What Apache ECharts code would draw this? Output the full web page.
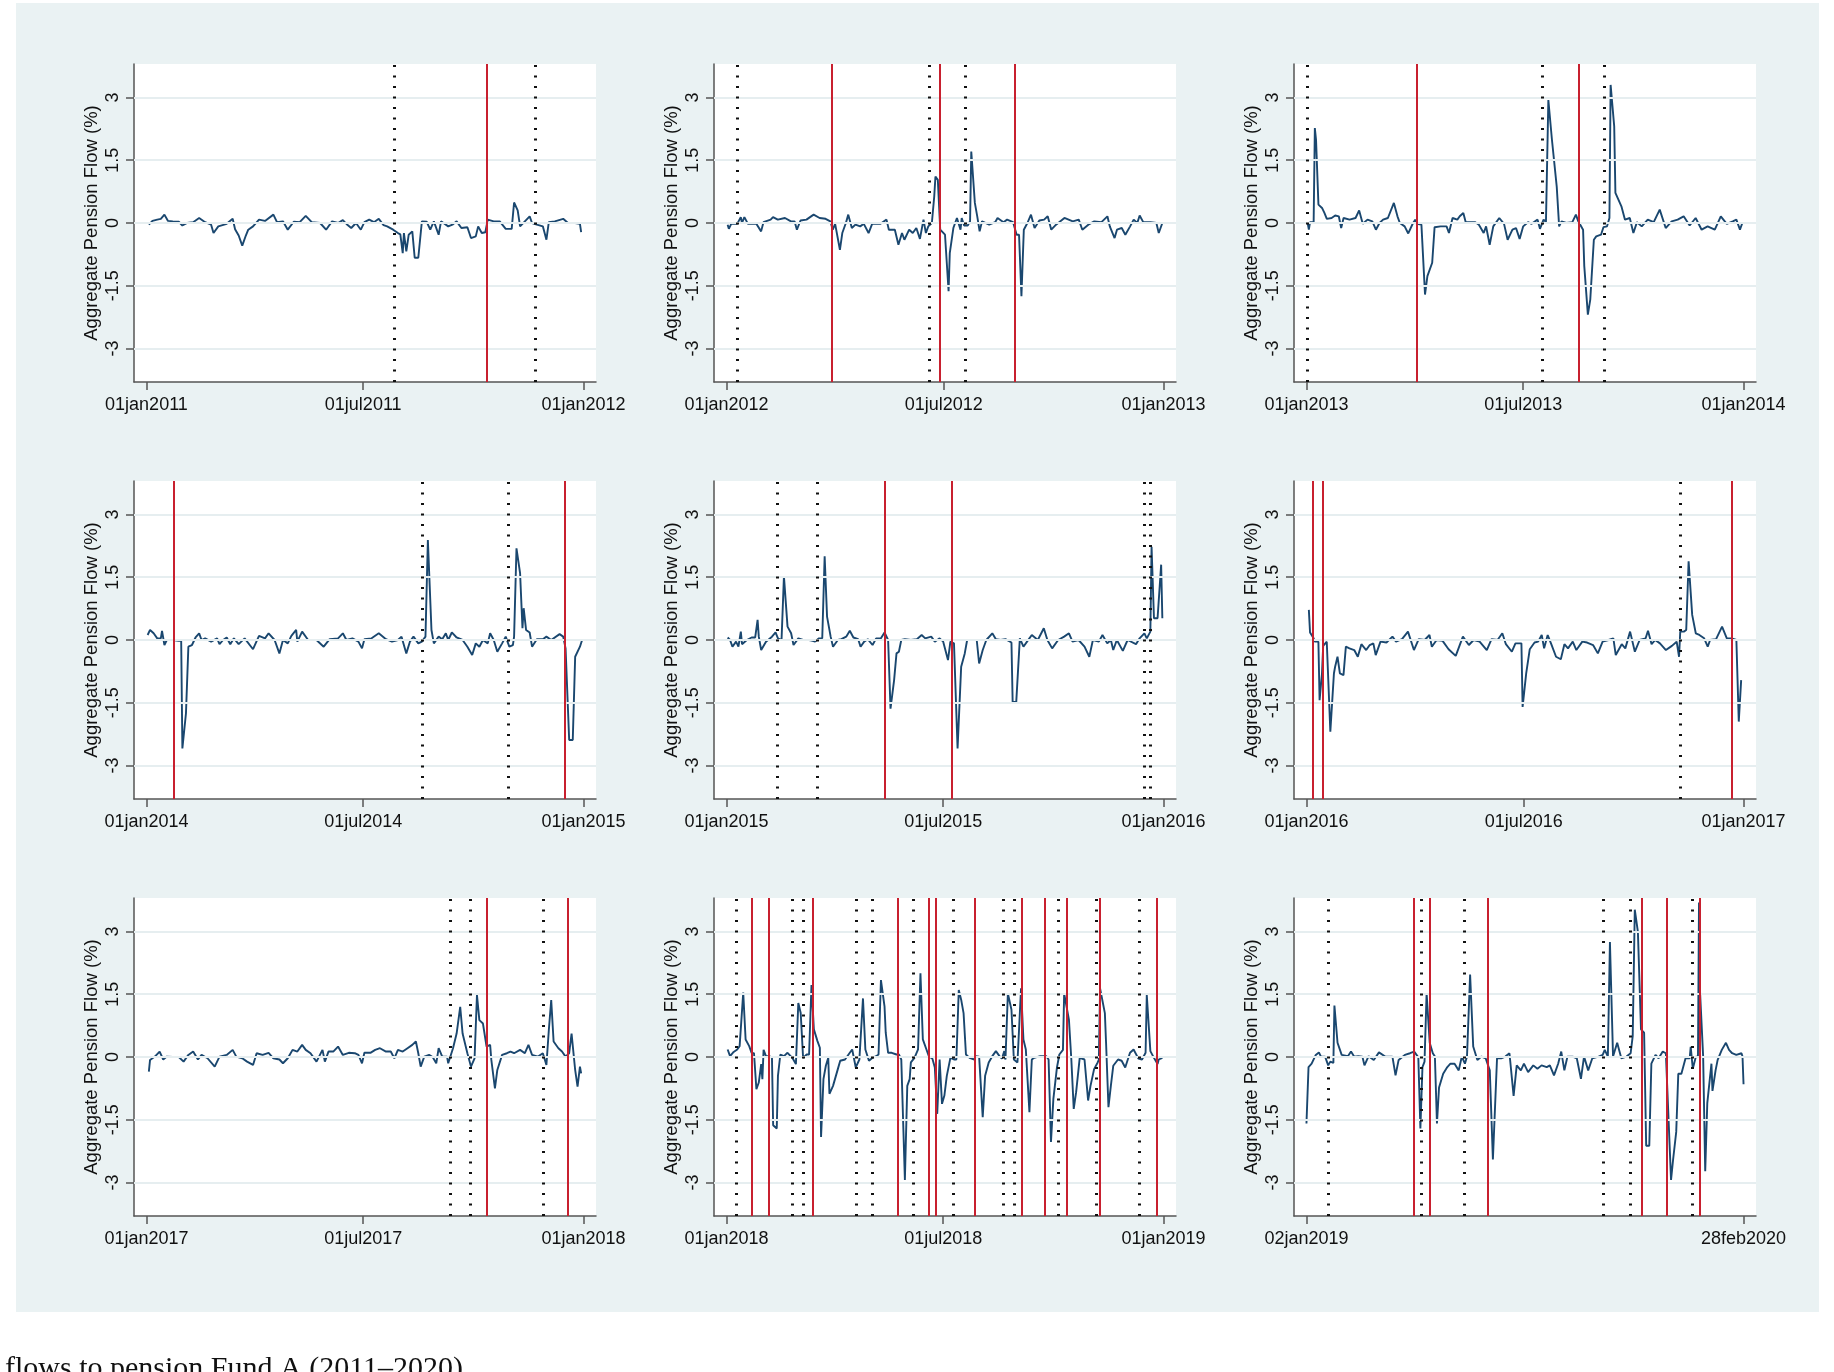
<!DOCTYPE html>
<html>
<head>
<meta charset="utf-8">
<script src="https://cdn.jsdelivr.net/npm/echarts@6/dist/echarts.min.js"></script>
<style>
html, body { margin: 0; padding: 0; background: #fff; }
#main { width: 1834px; height: 1372px; }
</style>
</head>
<body>
<div id="main"></div>
<script>
// days counted from 1 January of each panel's year (panel 9: from 2 January 2019)
var flow2011 = [[2,-0.04],[5,0.05],[9,0.08],[12,0.1],[15,0.2],[18,0.05],[22,0.04],[27,0.03],[30,-0.06],[34,0],[39,0.02],[44,0.12],[49,0.02],[54,-0.04],[56,-0.24],[60,-0.08],[67,-0.02],[72,0.1],[74,-0.15],[77,-0.3],[80,-0.54],[83,-0.3],[85,-0.16],[89,-0.08],[94,0.08],[99,0.05],[106,0.2],[109,0.02],[114,0.04],[118,-0.16],[123,0.03],[128,0.02],[133,0.17],[138,0.02],[145,0],[150,-0.16],[155,0.04],[160,0],[164,0.07],[168,-0.05],[171,-0.12],[175,0],[179,-0.16],[182,0.02],[186,0.08],[190,0.02],[194,0.1],[198,-0.05],[201,-0.08],[206,-0.16],[210,-0.24],[212,-0.27],[214,-0.72],[215,-0.24],[217,-0.68],[219,-0.28],[222,-0.2],[224,-0.83],[227,-0.83],[230,0.04],[234,0.03],[237,-0.16],[240,0.04],[244,-0.28],[246,0.04],[252,-0.08],[256,-0.03],[259,0.04],[263,-0.12],[268,-0.1],[271,-0.36],[275,-0.32],[277,-0.08],[280,-0.24],[283,-0.22],[285,0.08],[290,0.04],[295,0.04],[300,-0.14],[305,-0.14],[307,0.49],[310,0.3],[312,-0.08],[316,0.04],[320,0.16],[322,0],[326,-0.04],[331,-0.08],[334,-0.4],[336,0.02],[341,0.04],[348,0.1],[352,0],[358,0],[362,-0.02],[363,-0.22]];
var dash2011 = [207, 325];
var red2011 = [284];

var flow2012 = [[1,-0.04],[2,-0.14],[4,-0.02],[9,-0.02],[12,0.14],[13,0],[15,0.14],[18,-0.02],[25,-0.02],[29,-0.2],[31,0.02],[37,0.08],[39,0.14],[43,0.08],[49,0.12],[54,0.04],[57,0.04],[59,-0.16],[62,0.06],[67,0.08],[73,0.2],[78,0.12],[83,0.1],[87,0.04],[89,-0.16],[91,-0.02],[95,-0.64],[97,-0.24],[100,0],[102,0.2],[105,-0.12],[108,-0.04],[112,-0.08],[115,-0.02],[119,-0.24],[122,-0.02],[129,-0.02],[134,0.08],[136,-0.16],[141,-0.16],[144,-0.52],[147,-0.24],[149,-0.4],[153,-0.16],[156,-0.24],[159,-0.12],[162,-0.38],[165,0.08],[167,-0.24],[169,-0.08],[172,0],[174,0.64],[175,1.11],[177,1.03],[179,-0.16],[183,-0.28],[186,-1.63],[187,-0.72],[190,-0.12],[193,0.12],[196,-0.16],[197,0.12],[199,-0.06],[202,-0.06],[204,0.04],[205,1.71],[208,0.48],[210,0.16],[212,-0.2],[214,0.04],[220,-0.04],[225,0.02],[227,0.12],[232,0.02],[235,0.08],[240,0.02],[243,-0.28],[245,-0.28],[247,-1.75],[249,-0.16],[252,0],[255,0.2],[258,-0.12],[262,0.06],[266,0.08],[269,0.16],[272,-0.16],[276,-0.04],[283,0.12],[290,0.04],[295,0.08],[298,-0.16],[303,-0.04],[308,0.04],[314,0.02],[319,0.16],[321,-0.08],[325,-0.36],[327,-0.16],[331,-0.12],[334,-0.28],[338,-0.08],[341,0.08],[344,0],[346,0.18],[349,0.02],[355,0.02],[360,0],[362,-0.24],[365,0]];
var dash2012 = [9, 170, 200];
var red2012 = [88, 179, 241];

var flow2013 = [[1,0],[2,-0.16],[3,0.02],[6,0.02],[7,2.27],[8,1.99],[10,0.44],[13,0.36],[15,0.24],[17,0.1],[21,0.12],[24,0.18],[27,0.16],[29,-0.12],[31,0.12],[36,0.08],[41,0.12],[44,0.3],[47,-0.02],[51,0.08],[55,0.04],[58,-0.16],[61,0],[64,0.08],[68,0.12],[73,0.48],[76,0.16],[78,0],[82,-0.08],[85,-0.25],[89,0],[91,0.08],[92,-0.02],[96,-0.04],[99,-1.71],[101,-1.27],[105,-0.95],[107,-0.1],[112,-0.08],[117,-0.08],[119,-0.24],[122,0.12],[126,0.08],[128,0.16],[131,0.24],[133,0.02],[136,0.02],[141,0.02],[144,-0.04],[148,-0.24],[150,-0.08],[153,-0.52],[156,-0.08],[161,0.12],[165,-0.02],[168,-0.4],[172,-0.16],[175,-0.12],[178,-0.38],[181,-0.08],[185,0.02],[188,-0.02],[193,0.08],[195,-0.14],[198,0.08],[200,0.02],[202,2.94],[205,1.99],[209,0.87],[211,-0.08],[213,0.04],[217,0],[222,0.02],[225,0.2],[227,0.04],[231,-0.16],[232,-1.03],[235,-2.19],[237,-1.83],[240,-0.4],[242,-0.32],[246,-0.28],[248,-0.1],[251,-0.08],[253,0.12],[254,3.3],[257,2.31],[258,0.72],[263,0.4],[266,0.08],[270,0.12],[273,-0.24],[276,0.02],[280,-0.08],[285,0.08],[290,0.02],[295,0.32],[300,-0.12],[305,0.04],[310,0.08],[315,0.16],[320,-0.06],[325,0.12],[330,-0.16],[335,-0.08],[341,-0.16],[346,0.16],[351,-0.02],[356,0.04],[359,0.08],[362,-0.16],[364,0]];
var dash2013 = [1, 197, 249];
var red2013 = [92, 227];

var flow2014 = [[1,0.12],[3,0.24],[6,0.16],[9,0.04],[12,0.04],[13,0.22],[15,-0.12],[17,0],[22,0],[27,-0.02],[29,-0.02],[30,-2.59],[33,-1.75],[35,-0.16],[38,-0.12],[41,0.06],[44,0.16],[46,0],[49,0.04],[54,-0.04],[59,0.04],[61,-0.1],[64,0],[67,0.06],[70,-0.1],[73,0.04],[77,-0.1],[82,0.04],[89,-0.22],[94,0.1],[99,0.04],[102,0.16],[107,0],[111,-0.32],[114,0],[118,-0.08],[121,0.1],[125,0.24],[126,-0.04],[130,0.2],[135,0],[142,0],[148,-0.16],[153,0.02],[160,0.04],[164,0.16],[167,0],[172,0.04],[177,-0.04],[180,-0.2],[182,0.02],[188,0.04],[194,0.16],[200,0.02],[205,-0.04],[210,0],[213,0.08],[217,-0.32],[220,-0.04],[223,0.08],[227,-0.08],[230,-0.04],[233,0.08],[235,2.39],[238,0.24],[240,-0.08],[244,0.08],[247,0.02],[250,0.16],[252,0],[255,0.18],[259,0.06],[264,0],[268,-0.16],[272,-0.36],[275,-0.08],[278,-0.16],[281,0],[285,-0.08],[287,0.16],[290,0],[293,-0.28],[297,-0.08],[300,0.08],[303,-0.16],[306,-0.12],[307,0.08],[309,2.19],[312,1.6],[314,0.28],[315,0.76],[317,0.24],[320,0.18],[322,-0.16],[326,0.02],[331,0.02],[334,0.08],[338,0],[345,0.14],[348,0.08],[350,-0.2],[351,-0.24],[353,-2.39],[356,-2.39],[358,-0.4],[362,-0.16],[364,0.02]];
var dash2014 = [230, 302];
var red2014 = [23, 349];

var flow2015 = [[1,0.06],[3,0],[5,-0.16],[8,-0.04],[10,-0.16],[12,0.2],[13,-0.1],[17,0],[21,0.06],[24,0.06],[26,0.48],[27,0.08],[29,-0.24],[33,-0.04],[38,0.08],[41,0.18],[43,0.04],[46,0],[48,1.52],[51,0.32],[54,0.16],[56,-0.12],[60,0.04],[64,0],[69,0],[72,-0.02],[74,-0.04],[77,0.04],[80,0.04],[82,2.0],[84,0.56],[87,0.08],[89,-0.16],[93,0],[96,0.02],[100,0.08],[103,0.22],[106,0.06],[110,0.02],[112,-0.16],[115,-0.04],[118,0.02],[122,-0.12],[125,0.04],[129,0.04],[132,0.18],[135,0],[137,-1.64],[140,-0.96],[142,-0.32],[144,-0.28],[146,0],[149,0.02],[154,0],[159,0.02],[163,0.12],[166,0.04],[171,0.08],[174,-0.04],[178,0.04],[181,-0.04],[185,-0.48],[187,-0.04],[190,-0.08],[193,-2.59],[196,-0.64],[199,-0.32],[201,0],[205,0],[209,0],[211,-0.56],[214,-0.24],[217,0],[222,0.16],[225,0.02],[229,0],[233,0.02],[238,-0.06],[239,-1.48],[242,-1.48],[245,0.04],[248,-0.16],[251,-0.04],[255,0.12],[260,0],[265,0.28],[268,0],[272,-0.2],[277,0],[282,0.08],[286,0.16],[289,-0.04],[294,0],[299,-0.16],[303,-0.4],[306,0],[311,-0.04],[314,0.12],[318,-0.08],[321,0],[323,-0.24],[326,0],[331,-0.26],[335,0],[342,-0.1],[345,0.04],[349,0.16],[351,0.04],[354,0.2],[355,2.23],[357,0.52],[360,0.52],[363,1.8],[364,0.52]];
var dash2015 = [42, 76, 349, 354];
var red2015 = [132, 188];

var flow2016 = [[2,0.72],[3,0.18],[6,0.04],[7,-0.04],[10,-0.04],[11,-1.44],[13,-0.8],[14,-0.14],[17,-0.04],[18,-0.04],[20,-2.19],[23,-0.8],[24,-0.64],[26,-0.4],[28,-0.8],[31,-0.84],[33,-0.16],[36,-0.2],[40,-0.24],[43,-0.4],[46,-0.1],[50,-0.24],[53,-0.12],[56,-0.08],[58,-0.36],[62,-0.04],[67,-0.06],[72,0.08],[75,-0.04],[80,0.02],[85,0.2],[90,-0.24],[94,0.02],[99,0],[103,0.12],[105,-0.16],[109,0],[114,-0.02],[119,-0.22],[125,-0.38],[131,0.08],[136,-0.12],[140,0],[145,-0.04],[151,-0.24],[155,0.02],[160,0],[164,0.16],[167,-0.1],[172,-0.28],[175,-0.08],[180,-0.08],[181,-1.6],[184,-0.8],[187,-0.22],[191,-0.06],[194,-0.04],[197,0.12],[199,-0.2],[202,0.12],[205,-0.1],[209,-0.4],[213,-0.46],[216,-0.1],[219,-0.2],[223,-0.04],[226,-0.24],[231,-0.04],[235,-0.06],[240,-0.12],[244,-0.32],[248,-0.04],[253,0],[257,0.04],[259,-0.36],[264,-0.1],[267,-0.2],[271,0.2],[275,-0.28],[279,0],[284,0.04],[286,0.22],[289,-0.1],[292,0],[296,-0.08],[301,-0.24],[306,-0.14],[310,-0.04],[312,-0.4],[313,0.2],[316,0.2],[318,0.24],[320,1.88],[321,1.88],[323,0.6],[326,0.16],[329,0.12],[333,0.04],[336,-0.16],[338,0],[343,0.02],[348,0.32],[352,0.04],[356,0.04],[360,0],[362,-1.95],[364,-0.96]];
var dash2016 = [313];
var red2016 = [5, 14, 356];

var flow2017 = [[2,-0.35],[3,-0.07],[7,0.01],[11,0.13],[14,-0.06],[17,0.01],[22,0],[27,0],[31,-0.11],[35,0.05],[39,0.13],[43,-0.06],[46,0.05],[51,-0.03],[57,-0.23],[61,0.01],[67,0.05],[72,0.17],[75,0.01],[80,-0.03],[84,-0.11],[89,-0.19],[92,0.09],[97,0.05],[102,0.1],[106,-0.03],[111,-0.06],[114,-0.15],[118,-0.03],[122,0.17],[126,0.13],[130,0.29],[133,0.17],[137,0.09],[142,-0.11],[147,0.17],[149,-0.11],[152,0.13],[156,0.13],[160,0.25],[164,0.05],[169,0.1],[174,0.09],[177,0.05],[180,-0.15],[182,0.1],[187,0.1],[191,0.17],[195,0.21],[200,0.13],[204,0.13],[207,-0.03],[210,0.17],[214,0.13],[218,0.21],[222,0.29],[225,0.37],[227,0.09],[229,-0.23],[232,0.01],[236,0.05],[239,0],[242,-0.15],[244,0.21],[247,0.01],[251,0.01],[252,-0.15],[256,0.21],[259,0.56],[262,1.2],[264,0.56],[268,0.09],[271,-0.23],[274,-0.03],[276,1.48],[278,0.88],[281,0.8],[284,0.25],[287,0.29],[288,-0.07],[291,-0.75],[293,-0.31],[297,0.05],[301,0.09],[304,0.13],[307,0.09],[312,0.17],[316,0.09],[319,0.29],[322,0.05],[327,0.01],[331,0.09],[334,-0.19],[336,0.64],[338,1.36],[340,0.37],[344,0.21],[347,0.13],[350,0.01],[353,0.09],[355,0.56],[358,-0.31],[360,-0.71],[362,-0.23],[363,-0.39]];
var dash2017 = [254, 270, 331];
var red2017 = [284, 352];

var flow2018 = [[1,0.18],[3,0.02],[6,0.12],[9,0.18],[11,0.26],[14,1.54],[16,0.42],[19,0.26],[21,0.1],[23,0.09],[25,-0.77],[27,-0.61],[29,-0.17],[30,-0.53],[31,0.17],[33,0.02],[36,0.02],[38,-0.02],[39,-1.63],[42,-1.71],[43,-0.45],[45,0.06],[48,0.02],[51,0.1],[55,-0.02],[58,-0.17],[60,1.29],[62,1.05],[64,-0.02],[67,0.06],[69,0.06],[71,1.72],[73,0.66],[76,0.38],[78,0.22],[79,-1.91],[81,-0.53],[83,-0.21],[85,-0.02],[86,-0.88],[89,-0.69],[93,-0.29],[95,-0.09],[99,-0.06],[103,0.1],[105,0.18],[108,-0.25],[111,-0.06],[114,1.4],[116,0.18],[119,-0.09],[122,-0.02],[125,0.02],[127,0.06],[129,1.84],[132,1.21],[133,0.58],[135,0.1],[138,0.1],[142,0.06],[144,0.06],[146,-0.06],[149,-2.94],[151,-0.69],[153,-0.53],[154,-0.13],[157,-0.02],[160,0.18],[162,2.0],[164,0.42],[167,0.18],[169,0.02],[172,-0.04],[174,-0.25],[176,-1.36],[178,-0.06],[180,-1.12],[182,-0.92],[184,-0.45],[187,-0.02],[190,-0.06],[192,-0.06],[194,1.6],[196,1.37],[198,1.05],[200,0.06],[203,-0.02],[207,-0.06],[208,0.02],[211,0.01],[214,-1.44],[216,-0.45],[219,-0.13],[222,0.02],[225,0.14],[228,0.02],[230,-0.04],[232,0.14],[233,-0.06],[235,1.52],[238,1.13],[240,-0.06],[243,-0.13],[246,1.64],[248,0.42],[250,0.18],[253,-1.32],[255,-0.06],[257,-0.02],[262,0.02],[267,0.02],[269,-0.06],[271,-2.03],[273,-1.0],[276,-0.25],[278,0.06],[281,0.17],[282,1.52],[286,0.89],[288,-0.06],[290,-1.24],[292,-0.84],[295,-0.02],[299,-0.06],[302,-1.04],[304,-0.69],[307,-0.29],[310,-0.13],[311,-0.06],[312,1.64],[316,1.05],[317,0.34],[319,-1.2],[321,-0.69],[323,-0.21],[327,-0.06],[330,-0.09],[333,-0.25],[337,0.1],[340,0.18],[344,-0.04],[347,-0.06],[350,0.1],[351,1.48],[354,0.14],[357,-0.02],[360,-0.17],[361,-0.06],[364,-0.02]];
var dash2018 = [8, 55, 64, 108, 122, 156, 189, 231, 240, 277, 309, 345];
var red2018 = [21, 35, 72, 143, 169, 175, 207, 247, 266, 284, 312, 359];

var flow2019 = [[0,-1.59],[2,-0.24],[5,-0.16],[9,0.05],[12,0.11],[14,0.01],[18,0.01],[21,-0.2],[23,-0.11],[26,-0.14],[27,1.23],[30,0.34],[34,0.05],[40,0.02],[43,0.13],[46,0.01],[50,0.02],[54,0.01],[56,-0.2],[60,0.02],[65,-0.07],[70,0.11],[76,0.01],[83,0.01],[86,-0.44],[89,-0.07],[95,0.05],[100,0.09],[104,0.13],[108,-0.01],[110,-1.71],[112,-0.24],[114,-0.11],[116,1.52],[119,0.34],[122,0.09],[124,0.01],[126,-1.59],[128,-0.73],[132,-0.4],[136,-0.24],[139,-0.16],[143,-0.16],[147,-0.32],[150,0.01],[153,-0.16],[155,0.01],[158,1.97],[161,0.25],[165,-0.07],[169,0.01],[173,-0.03],[177,-0.32],[180,-2.45],[184,-0.03],[188,-0.03],[192,0.01],[196,0.09],[200,-0.93],[203,-0.2],[207,-0.32],[210,-0.16],[214,-0.36],[219,-0.2],[223,-0.28],[227,-0.2],[232,-0.24],[235,-0.2],[239,-0.44],[243,-0.16],[246,0.13],[249,-0.32],[252,0.01],[257,0.01],[261,-0.03],[265,-0.52],[268,0.01],[272,-0.32],[276,-0.03],[282,0.01],[286,0.05],[288,0.17],[291,0.01],[293,2.75],[296,0.01],[300,0.34],[304,-0.03],[309,0.01],[313,0.09],[315,0.5],[317,3.52],[320,2.99],[323,0.66],[326,0.58],[328,-2.12],[331,-2.12],[333,-0.16],[337,0.05],[340,-0.03],[344,0.13],[347,0.09],[352,-2.94],[354,-2.45],[357,-1.79],[359,-0.4],[362,-0.4],[366,-0.03],[370,-0.03],[371,0.24],[373,-0.28],[376,0.01],[378,0.01],[379,3.69],[380,1.56],[383,0.01],[385,-2.73],[387,-1.1],[391,-0.16],[392,-0.81],[395,-0.32],[397,-0.07],[401,0.17],[405,0.34],[408,0.17],[411,0.09],[415,0.05],[420,0.09],[421,0.01],[422,-0.65]];
var dash2019 = [21, 111, 152, 287, 313, 372];
var red2019 = [104, 119, 175, 324, 348, 380];

var tickDays = [[0, 181, 365], [0, 182, 366], [0, 181, 365], [0, 181, 365], [0, 181, 365], [0, 182, 366], [0, 181, 365], [0, 181, 365], [0, 422]];
var tickLabels = [
  ['01jan2011', '01jul2011', '01jan2012'],
  ['01jan2012', '01jul2012', '01jan2013'],
  ['01jan2013', '01jul2013', '01jan2014'],
  ['01jan2014', '01jul2014', '01jan2015'],
  ['01jan2015', '01jul2015', '01jan2016'],
  ['01jan2016', '01jul2016', '01jan2017'],
  ['01jan2017', '01jul2017', '01jan2018'],
  ['01jan2018', '01jul2018', '01jan2019'],
  ['02jan2019', '28feb2020']
];
var yTicks = [-3, -1.5, 0, 1.5, 3];

var flows = [flow2011, flow2012, flow2013, flow2014, flow2015, flow2016, flow2017, flow2018, flow2019];
var dashes = [dash2011, dash2012, dash2013, dash2014, dash2015, dash2016, dash2017, dash2018, dash2019];
var reds = [red2011, red2012, red2013, red2014, red2015, red2016, red2017, red2018, red2019];

var colLeft = [134, 714, 1294], rowTop = [64, 481, 898];
var plotW = 462, plotH = 318;
var fontSans = '"Liberation Sans", Arial, Helvetica, sans-serif';

var grids = [], xAxes = [], yAxes = [], series = [];
for (var i = 0; i < 9; i++) {
  var span = tickDays[i][tickDays[i].length - 1];
  var pad = span * 0.0285;
  grids.push({
    left: colLeft[i % 3], top: rowTop[Math.floor(i / 3)], width: plotW, height: plotH,
    show: true, backgroundColor: '#ffffff', borderWidth: 0
  });
  (function (labels, days) {
    xAxes.push({
      type: 'value', gridIndex: i, min: -pad, max: span + pad,
      splitLine: { show: false },
      axisLine: { show: true, onZero: false, lineStyle: { color: '#555', width: 1.5 } },
      axisTick: { show: true, customValues: days, length: 8, lineStyle: { color: '#555', width: 1.5 } },
      axisLabel: {
        customValues: days, margin: 14, color: '#111', fontSize: 18, fontFamily: fontSans,
        formatter: function (v) { return labels[days.indexOf(v)]; }
      }
    });
  })(tickLabels[i], tickDays[i]);
  yAxes.push({
    type: 'value', gridIndex: i, min: -3.8, max: 3.8,
    name: 'Aggregate Pension Flow (%)', nameLocation: 'middle', nameGap: 33,
    nameTextStyle: { color: '#111', fontSize: 18.5, fontFamily: fontSans },
    splitLine: { show: false },
    axisLine: { show: true, onZero: false, lineStyle: { color: '#555', width: 1.5 } },
    axisTick: { show: true, customValues: yTicks, length: 8, lineStyle: { color: '#555', width: 1.5 } },
    axisLabel: {
      customValues: yTicks, rotate: 90, margin: 12, color: '#111', fontSize: 18, fontFamily: fontSans,
      formatter: function (v) { return String(v); }
    }
  });
  // horizontal grid lines
  series.push({
    type: 'line', xAxisIndex: i, yAxisIndex: i, data: [], silent: true, z: 1,
    markLine: {
      symbol: 'none', silent: true, animation: false, label: { show: false },
      lineStyle: { color: '#e6eef0', width: 2, type: 'solid' },
      data: yTicks.map(function (v) { return { yAxis: v }; })
    }
  });
  var vlines = dashes[i].map(function (d) {
    return { xAxis: d, lineStyle: { color: '#111', width: 3, type: [2, 8.5] } };
  }).concat(reds[i].map(function (d) {
    return { xAxis: d, lineStyle: { color: '#c8202f', width: 2, type: 'solid' } };
  }));
  series.push({
    type: 'line', xAxisIndex: i, yAxisIndex: i, data: flows[i],
    showSymbol: false, z: 3,
    lineStyle: { color: '#1a476f', width: 1.9 },
    markLine: {
      symbol: 'none', silent: true, animation: false, label: { show: false },
      data: vlines
    }
  });
}

var chart = echarts.init(document.getElementById('main'));
chart.setOption({
  animation: false,
  backgroundColor: '#ffffff',
  graphic: [
    { type: 'rect', z: -10, shape: { x: 16, y: 3, width: 1803, height: 1309 }, style: { fill: '#eaf2f3' } },
    { type: 'text', z: 10, style: { x: 5, y: 1354, text: 'flows to pension Fund A (2011\u20132020)', font: '30px "Liberation Serif", "DejaVu Serif", serif', fill: '#111', verticalAlign: 'top' } }
  ],
  grid: grids,
  xAxis: xAxes,
  yAxis: yAxes,
  series: series
});
</script>
</body>
</html>
